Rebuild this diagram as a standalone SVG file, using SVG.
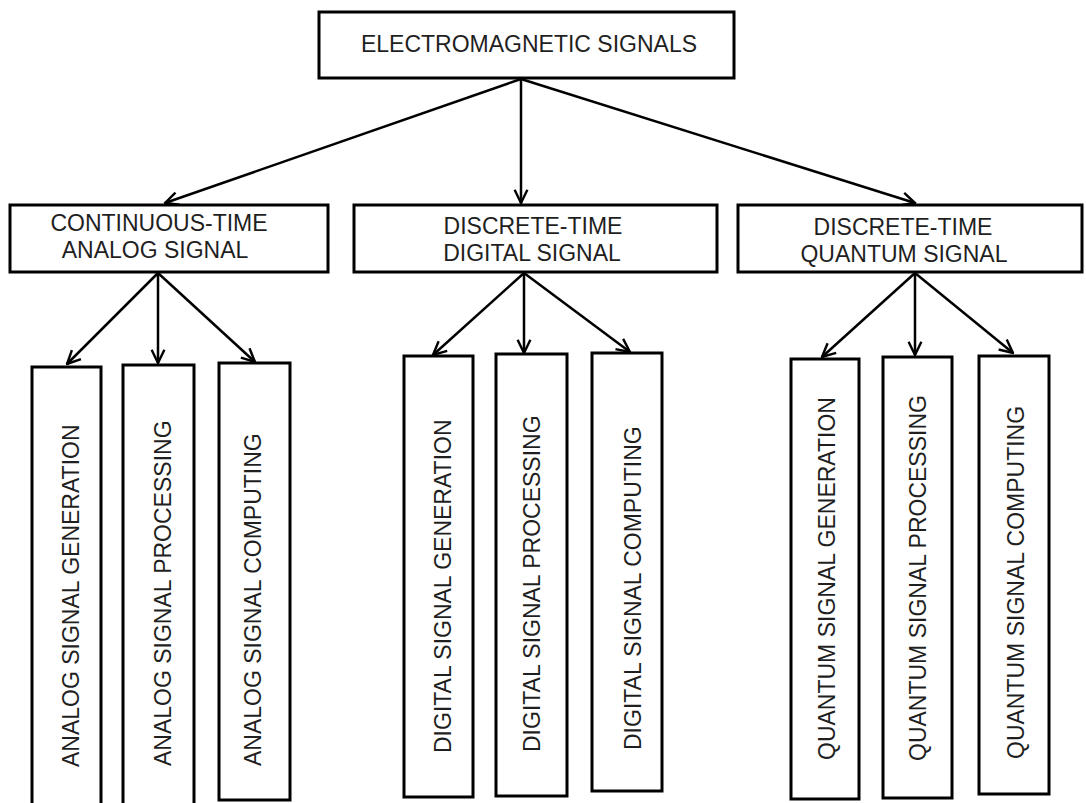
<svg xmlns="http://www.w3.org/2000/svg" width="1086" height="803" viewBox="0 0 1086 803">
  <style>
    .box { fill: #ffffff; stroke: #000000; stroke-width: 3; }
    .lbl { font-family: "Liberation Sans", Arial, sans-serif; font-size: 23px; fill: #1f1f1f; }
    .mid { text-anchor: middle; }
    .link { fill: none; stroke: #000000; stroke-width: 2.5; marker-end: url(#arrow); }
  </style>
  <defs>
    <marker id="arrow" viewBox="0 0 12 12" refX="11" refY="6" markerWidth="16" markerHeight="16" markerUnits="userSpaceOnUse" orient="auto">
      <path d="M1,1.2 L11,6 L1,10.8" fill="none" stroke="#000000" stroke-width="1.8"/>
    </marker>
  </defs>
  <rect width="1086" height="803" fill="#ffffff"/>

  <!-- connectors -->
  <g id="connectors">
    <line class="link" x1="521" y1="79" x2="165" y2="203"/>
    <line class="link" x1="521" y1="79" x2="521" y2="203"/>
    <line class="link" x1="521" y1="79" x2="915" y2="203"/>

    <line class="link" x1="158" y1="273" x2="67" y2="364"/>
    <line class="link" x1="158" y1="273" x2="158" y2="363"/>
    <line class="link" x1="158" y1="273" x2="255" y2="362"/>

    <line class="link" x1="524" y1="273" x2="433" y2="355"/>
    <line class="link" x1="524" y1="273" x2="524" y2="353"/>
    <line class="link" x1="524" y1="273" x2="630" y2="352"/>

    <line class="link" x1="915" y1="273" x2="822" y2="357"/>
    <line class="link" x1="915" y1="273" x2="915" y2="355"/>
    <line class="link" x1="915" y1="273" x2="1013" y2="353"/>
  </g>

  <!-- root -->
  <g id="electromagnetic-signals">
    <rect class="box" x="319" y="12" width="415" height="66"/>
    <text class="lbl mid" x="529" y="52">ELECTROMAGNETIC SIGNALS</text>
  </g>

  <!-- signal classes -->
  <g id="continuous-time-analog">
    <rect class="box" x="10" y="205" width="318" height="67"/>
    <text class="lbl mid" x="159" y="231">CONTINUOUS-TIME</text>
    <text class="lbl mid" x="155" y="258">ANALOG SIGNAL</text>
  </g>
  <g id="discrete-time-digital">
    <rect class="box" x="354" y="205" width="363" height="67"/>
    <text class="lbl mid" x="533" y="234">DISCRETE-TIME</text>
    <text class="lbl mid" x="532" y="261">DIGITAL SIGNAL</text>
  </g>
  <g id="discrete-time-quantum">
    <rect class="box" x="738" y="205" width="344" height="67"/>
    <text class="lbl mid" x="903" y="235">DISCRETE-TIME</text>
    <text class="lbl mid" x="904" y="262">QUANTUM SIGNAL</text>
  </g>

  <!-- analog branch -->
  <g id="analog-generation">
    <rect class="box" x="32" y="367" width="69" height="450"/>
    <text class="lbl" transform="translate(79,767) rotate(-90)">ANALOG SIGNAL GENERATION</text>
  </g>
  <g id="analog-processing">
    <rect class="box" x="123" y="365" width="71" height="452"/>
    <text class="lbl" transform="translate(171,766) rotate(-90)">ANALOG SIGNAL PROCESSING</text>
  </g>
  <g id="analog-computing">
    <rect class="box" x="219" y="363" width="71" height="437"/>
    <text class="lbl" transform="translate(261,766) rotate(-90)">ANALOG SIGNAL COMPUTING</text>
  </g>

  <!-- digital branch -->
  <g id="digital-generation">
    <rect class="box" x="404" y="356" width="69" height="441"/>
    <text class="lbl" transform="translate(451,753) rotate(-90)">DIGITAL SIGNAL GENERATION</text>
  </g>
  <g id="digital-processing">
    <rect class="box" x="496" y="354" width="71" height="442"/>
    <text class="lbl" transform="translate(540,752) rotate(-90)">DIGITAL SIGNAL PROCESSING</text>
  </g>
  <g id="digital-computing">
    <rect class="box" x="592" y="353" width="70" height="438"/>
    <text class="lbl" transform="translate(641,750) rotate(-90)">DIGITAL SIGNAL COMPUTING</text>
  </g>

  <!-- quantum branch -->
  <g id="quantum-generation">
    <rect class="box" x="791" y="359" width="68" height="440"/>
    <text class="lbl" transform="translate(835,760) rotate(-90)">QUANTUM SIGNAL GENERATION</text>
  </g>
  <g id="quantum-processing">
    <rect class="box" x="883" y="357" width="69" height="441"/>
    <text class="lbl" transform="translate(926,761) rotate(-90)">QUANTUM SIGNAL PROCESSING</text>
  </g>
  <g id="quantum-computing">
    <rect class="box" x="979" y="356" width="70" height="438"/>
    <text class="lbl" transform="translate(1024,759) rotate(-90)">QUANTUM SIGNAL COMPUTING</text>
  </g>
</svg>
